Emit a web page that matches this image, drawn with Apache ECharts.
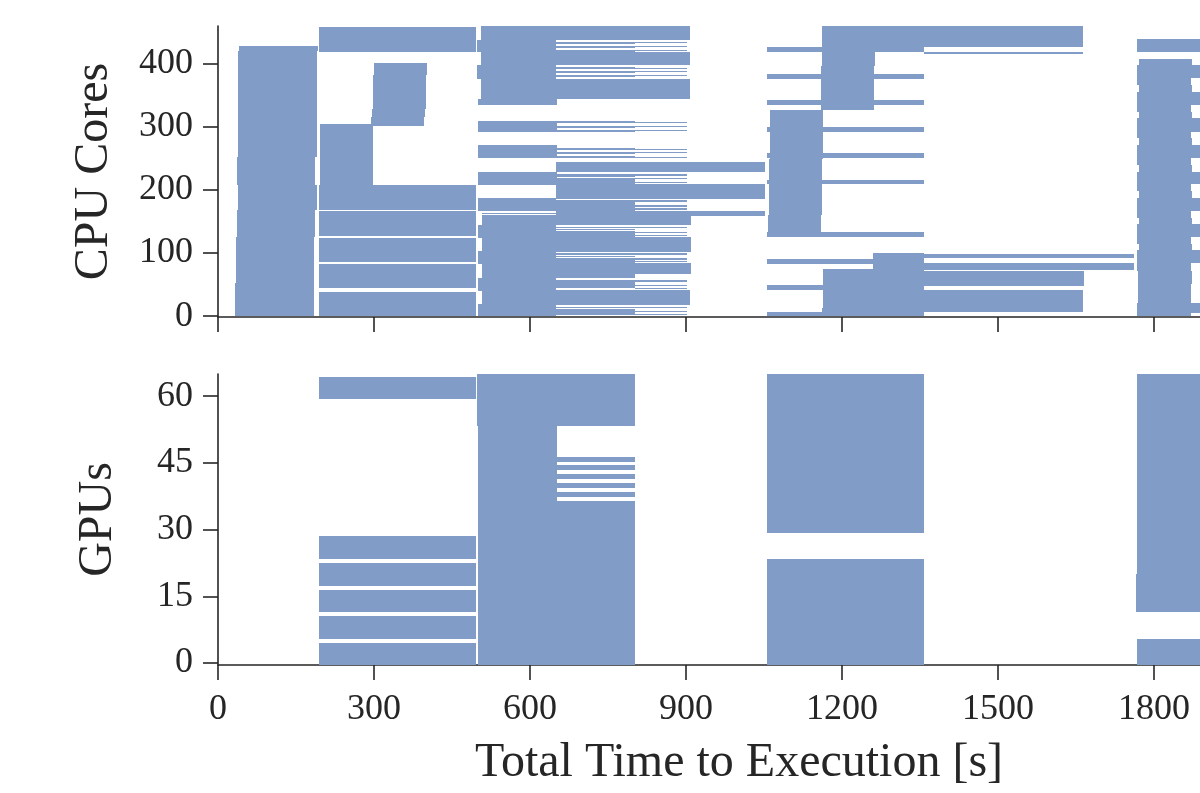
<!DOCTYPE html>
<html>
<head>
<meta charset="utf-8">
<script src="https://cdn.jsdelivr.net/npm/echarts@6/dist/echarts.min.js"></script>
<style>html,body{margin:0;padding:0;background:#fff;}#c{width:1200px;height:793px;}</style>
</head>
<body>
<div id="c"></div>
<script>
// ---- Data: each task = [start s, end s, low unit, high unit] ----
const xTicks = [0, 300, 600, 900, 1200, 1500, 1800];
const cpuTicks = [0, 100, 200, 300, 400];
const gpuTicks = [0, 15, 30, 45, 60];

const cpuJob1 = [
  [41,192,420,429],[38.5,190,253,420],[36.5,187,208,253],[38.5,190,168,208],
  [36.5,187,126,168],[34.6,185,52,126],[32.7,185,0,52]
];
const cpuJob2 = [
  [194,496,419,459],
  [300,402,382,401],[298,400,329,382],[296,398,315,329],[294,396,301,315],
  [197,299,271,305],[196,298,207.5,271],
  [194,496,167.5,207.5],[194,496,126.5,166],[194,496,86.5,123.5],[194,496,44,82],[194,496,0,38.5]
];
const cpuJob3Blocks = [
  [506,908,438,460],[499,650,418,438],[506,908,398,418],[499,650,376,398],
  [506,908,344,376],[500,652,335,344],[500,652,292,309.5],[500,652,251,271.4],
  [650,1052,228,244.4],[500,652,208,228.6],[650,802,209.5,219],[650,1052,186,209.5],
  [500,650,167,188],[650,802,167,178],[650,1052,158,167],[507,650,161.5,163],
  [507,650,144,160],[500,650,124,144],[507,650,103,124],[500,650,82.5,103],
  [507,650,61,82.5],[500,650,40,61],[507,650,18.6,40],[500,650,0,18.6],
  [650,909,144,158],[650,909,102,126],[650,909,66,84.6],[650,907,17.5,41.3],
  [650,802,126,135],[650,802,84.6,92.5],[650,802,59.8,66.2],[650,802,44,50.3],[650,802,1.6,7.9]
];
const cpuJob3Lines = [
  [650,802,431.7,434.9],[650,802,425.4,428.6],[650,802,419.5,422.2],
  [802,902,432.5,434],[802,902,426.5,428],[802,902,420,421.5],
  [650,802,392,395],[650,802,385.7,389],[650,802,379.4,382.5],
  [802,902,392.5,394],[802,902,386.5,388],[802,902,380,381.5],
  [650,802,306.3,309.5],[650,802,298.9,301.6],[650,802,292.5,295.2],
  [802,902,307,308.5],[802,902,299.5,301],[802,902,293,294.5],
  [650,802,263.5,266.7],[650,802,257,260.3],[650,802,250.8,254],
  [802,902,264,265.5],[802,902,258,259.5],[802,902,251.5,253],
  [650,902,222.7,225.4],[650,802,220.2,222.2],[802,902,217.5,219.5],[802,902,210.6,213.2],
  [650,902,181.4,184.1],[650,802,178.5,180.5],[802,902,173.5,176.2],[802,902,168.3,171],
  [650,902,139.5,141.5],[650,802,136.5,138.5],[802,902,131.7,133.8],[802,902,126.5,128.6],
  [650,902,96.8,99.5],[650,802,93.2,95.7],[802,902,89.4,91.6],[802,902,85.2,87.3],
  [650,902,54.4,57.1],[650,802,50.8,53.5],[802,902,47.1,49.2],[802,902,42.9,44.9],
  [650,902,12.2,14.8],[650,802,8.4,11.1],[802,902,6,7.5],[802,902,1.5,3]
];
const cpuJob4 = [
  [1161,1663,426,460],[1358,1663,415,419],
  [1161,1263,396,426],[1160,1262,327,396],
  [1056,1358,419,427],[1056,1358,376,384],[1056,1358,335,343],[1056,1358,292,300],
  [1056,1358,251,259],[1056,1358,210,216],[1056,1358,125,133],[1056,1358,83,90],
  [1056,1358,41,49],[1056,1358,0,6],
  [1061,1163,249,327],[1060,1161,161,249],[1058,1160,134,161],
  [1163,1358,12,75],[1161,1358,0,12],[1260,1358,75,100],[1260,1762,92,98.4],
  [1358,1762,73,83.6],[1358,1665,48,72],[1358,1663,7,41]
];
const cpuJob5 = [
  [1767,1888,419,440],
  [1771,1873,387,408],[1767,1871,366,387],[1771,1873,345,366],[1767,1871,324,345],
  [1771,1873,303,324],[1767,1871,282,303],[1771,1873,261,282],[1767,1871,240,261],
  [1771,1873,219,240],[1767,1871,198,219],[1771,1873,177,198],[1767,1871,156,177],
  [1771,1873,135,156],[1767,1871,114,135],[1771,1873,93,114],[1767,1871,72,93],
  [1769,1873,51,72],[1769,1871,21,51],[1767,1871,0,21],
  [1767,1888,377.3,398.4],[1767,1888,334.9,356],[1767,1888,292.5,313.8],
  [1767,1888,251.3,271.4],[1767,1888,209,229],[1767,1888,166.7,187.8],
  [1767,1888,125.9,145.6],[1767,1888,83.7,104.8],[1767,1888,4.3,20.2]
];

const gpuJob2 = [
  [194,496,59.3,64.3],[194,496,23.4,28.6],[194,496,17.3,22.5],
  [194,496,11.5,16.4],[194,496,5.4,10.6],[194,496,-0.45,4.6]
];
const gpuJob3 = [
  [498,802,53.3,65],[500,652,-0.45,53.3],[652,802,-0.45,36.4],
  [652,802,45.2,46.4],[652,802,43.4,44.5],[652,802,41.3,42.5],
  [652,802,39.3,40.4],[652,802,37.3,38.4]
];
const gpuJob4 = [[1056,1358,29.2,65],[1056,1358,-0.45,23.4]];
const gpuJob5 = [[1766,1888,11.5,20],[1767,1888,20,65],[1767,1888,-0.45,5.4]];

// ---- Chart ----
const TXT = '#262626';
const BAR = '#829cc8';
const FONT = '"Liberation Serif", "DejaVu Serif", serif';

const cpuData = [].concat(cpuJob1, cpuJob2, cpuJob3Blocks, cpuJob3Lines, cpuJob4, cpuJob5);
const gpuData = [].concat(gpuJob2, gpuJob3, gpuJob4, gpuJob5);

function renderItem(params, api) {
  const p0 = api.coord([api.value(0), api.value(3)]);
  const p1 = api.coord([api.value(1), api.value(2)]);
  let x0 = Math.round(p0[0]), x1 = Math.round(p1[0]);
  let y0 = Math.round(p0[1]), y1 = Math.round(p1[1]);
  if (x1 - x0 < 1) x1 = x0 + 1;
  if (y1 - y0 < 1) y1 = y0 + 1;
  const cs = params.coordSys;
  const r = echarts.graphic.clipRectByRect(
    {x: x0, y: y0, width: x1 - x0, height: y1 - y0},
    {x: cs.x, y: cs.y, width: cs.width, height: cs.height});
  return r && {type: 'rect', shape: r, style: {fill: BAR}};
}

function plain(v) { return String(v); }

function xAxis(idx, showLabels) {
  return {
    gridIndex: idx, type: 'value', min: 0, max: 1888.5,
    axisLine: {show: true, onZero: false, lineStyle: {color: TXT, width: 1.6}},
    axisTick: {show: true, customValues: xTicks, length: 15, lineStyle: {color: TXT, width: 1.6}},
    axisLabel: {show: showLabels, customValues: xTicks, formatter: plain, fontFamily: FONT, fontSize: 36, color: TXT, margin: 27},
    splitLine: {show: false}
  };
}
function yAxis(idx, min, max, ticks) {
  return {
    gridIndex: idx, type: 'value', min: min, max: max,
    axisLine: {show: true, onZero: false, lineStyle: {color: TXT, width: 1.6}},
    axisTick: {show: true, customValues: ticks, length: 15, lineStyle: {color: TXT, width: 1.6}},
    axisLabel: {show: true, customValues: ticks, formatter: plain, fontFamily: FONT, fontSize: 36, color: TXT, margin: 25},
    splitLine: {show: false}
  };
}

const chart = echarts.init(document.getElementById('c'), null, {renderer: 'canvas'});
chart.setOption({
  animation: false,
  backgroundColor: '#ffffff',
  grid: [
    {left: 218, right: 0, top: 26, height: 291},
    {left: 218, right: 0, top: 374, height: 291}
  ],
  xAxis: [xAxis(0, false), xAxis(1, true)],
  yAxis: [yAxis(0, -1.5, 460, cpuTicks), yAxis(1, -0.45, 65, gpuTicks)],
  series: [
    {type: 'custom', xAxisIndex: 0, yAxisIndex: 0, renderItem: renderItem,
     encode: {x: [0, 1], y: [2, 3]}, data: cpuData, clip: true},
    {type: 'custom', xAxisIndex: 1, yAxisIndex: 1, renderItem: renderItem,
     encode: {x: [0, 1], y: [2, 3]}, data: gpuData, clip: true}
  ],
  graphic: [
    {type: 'text', x: 739, y: 763, silent: true,
     style: {text: 'Total Time to Execution [s]', font: '48px ' + FONT, fill: TXT, textAlign: 'center', textVerticalAlign: 'middle'}},
    {type: 'text', x: 94, y: 171.5, rotation: Math.PI / 2, silent: true,
     style: {text: 'CPU Cores', font: '48px ' + FONT, fill: TXT, textAlign: 'center', textVerticalAlign: 'middle'}},
    {type: 'text', x: 98, y: 519.5, rotation: Math.PI / 2, silent: true,
     style: {text: 'GPUs', font: '48px ' + FONT, fill: TXT, textAlign: 'center', textVerticalAlign: 'middle'}}
  ]
});
</script>
</body>
</html>
